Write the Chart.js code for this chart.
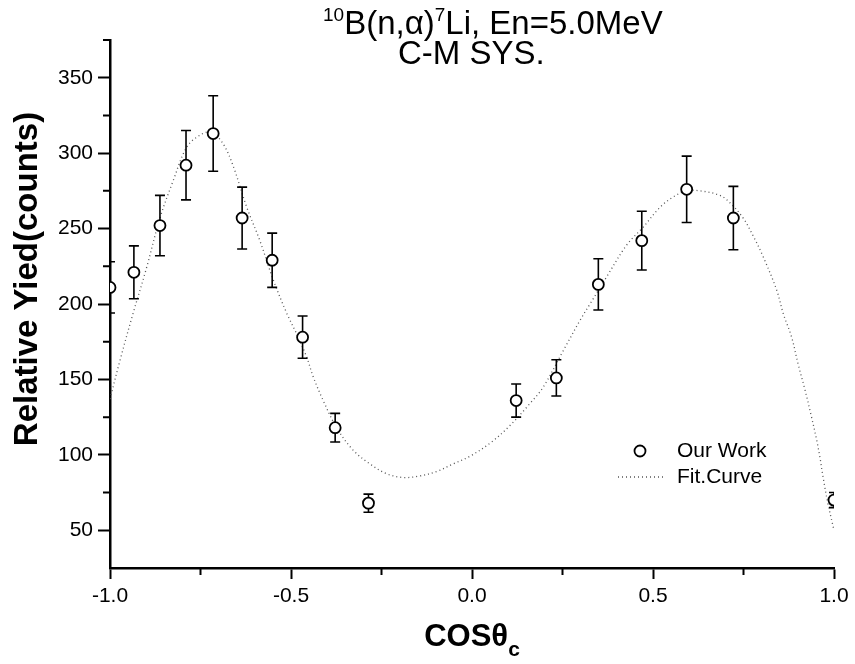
<!DOCTYPE html>
<html>
<head>
<meta charset="utf-8">
<script src="https://cdn.jsdelivr.net/npm/chart.js@4.4.1/dist/chart.umd.min.js"></script>
<style>
  html, body { margin: 0; padding: 0; background: #fff; }
  #wrap { width: 855px; height: 664px; }
</style>
</head>
<body>
<div id="wrap"><canvas id="chart" width="855" height="664"></canvas></div>
<script>
// ── Data ──────────────────────────────────────────────────
const cosTheta  = [-1.0, -0.934, -0.862, -0.79, -0.715, -0.635, -0.552, -0.468, -0.378, -0.286,
                   0.122, 0.233, 0.349, 0.469, 0.593, 0.722, 1.0];
const yieldVals = [211, 221, 252, 292, 313, 257, 229, 178, 118, 68,
                   136, 151, 213, 242, 276, 257, 70];
const yieldErr  = [17, 17.5, 20, 23, 25, 20.5, 18, 14, 9.5, 6,
                   11, 12, 17, 19.5, 22, 21, 5];

const fitX = [-1.0, -0.972, -0.936, -0.899, -0.862, -0.825, -0.788, -0.751, -0.72, -0.687,
              -0.659, -0.622, -0.586, -0.549, -0.512, -0.484, -0.457, -0.439, -0.411, -0.374,
              -0.328, -0.282, -0.236, -0.19, -0.144, -0.097, -0.052, -0.006, 0.054, 0.105,
              0.16, 0.197, 0.252, 0.298, 0.326, 0.372, 0.427, 0.473, 0.519, 0.556,
              0.593, 0.63, 0.685, 0.713, 0.749, 0.777, 0.805, 0.842, 0.86, 0.883,
              0.901, 0.92, 0.938, 0.952, 0.961, 0.97, 0.983, 1.0];
const fitY = [137, 163, 194, 224, 257, 282, 304, 312, 314, 306,
              291, 264, 242, 216, 194, 180, 165, 152, 136, 118,
              103, 94, 87.5, 85, 86, 89, 94, 99, 108.5, 119.5,
              134, 145, 169, 189, 200, 218, 239, 251, 264, 271,
              275, 275, 272, 267, 257, 245, 231, 209, 193.5, 178,
              160, 143, 125, 110, 98.5, 85, 68, 50];

const xTicks      = [-1.0, -0.5, 0.0, 0.5, 1.0];
const xMinorTicks = [-0.75, -0.25, 0.25, 0.75];
const yTicks      = [50, 100, 150, 200, 250, 300, 350];
const yMinorTicks = [75, 125, 175, 225, 275, 325, 375];

const FONT = '"Liberation Sans", Arial, sans-serif';

// error bars under the circles, clipped to the plot area
const errorBars = {
  id: 'errorBars',
  beforeDatasetDraw(chart, args) {
    if (args.index !== 0) return;
    const { ctx, chartArea: a, scales: { x, y } } = chart;
    ctx.save();
    ctx.beginPath();
    ctx.rect(a.left, a.top, a.right - a.left, a.bottom - a.top);
    ctx.clip();
    ctx.strokeStyle = '#000';
    ctx.lineWidth = 1.6;
    cosTheta.forEach(function(cx, i) {
      const px = x.getPixelForValue(cx);
      const top = y.getPixelForValue(yieldVals[i] + yieldErr[i]);
      const bot = y.getPixelForValue(yieldVals[i] - yieldErr[i]);
      ctx.beginPath();
      ctx.moveTo(px, top); ctx.lineTo(px, bot);
      ctx.moveTo(px - 5, top); ctx.lineTo(px + 5, top);
      ctx.moveTo(px - 5, bot); ctx.lineTo(px + 5, bot);
      ctx.stroke();
    });
    ctx.restore();
  }
};

// text runs with super/subscripts
function drawRuns(ctx, x, base, runs, weight) {
  runs.forEach(function(r) {
    ctx.font = (weight || '') + ' ' + r.size + 'px ' + FONT;
    ctx.fillText(r.t, x, base + (r.dy || 0));
    x += ctx.measureText(r.t).width;
  });
}
function runsWidth(ctx, runs, weight) {
  let w = 0;
  runs.forEach(function(r) {
    ctx.font = (weight || '') + ' ' + r.size + 'px ' + FONT;
    w += ctx.measureText(r.t).width;
  });
  return w;
}

const decorations = {
  id: 'decorations',
  afterDraw(chart) {
    const { ctx, chartArea: a, scales: { x, y } } = chart;
    ctx.save();
    ctx.strokeStyle = '#000';
    ctx.lineWidth = 2;
    ctx.beginPath();
    xMinorTicks.forEach(function(v) {
      const px = x.getPixelForValue(v);
      ctx.moveTo(px, a.bottom); ctx.lineTo(px, a.bottom + 7);
    });
    yMinorTicks.forEach(function(v) {
      const py = y.getPixelForValue(v);
      ctx.moveTo(a.left, py); ctx.lineTo(a.left - 7, py);
    });
    ctx.stroke();

    ctx.fillStyle = '#000';
    ctx.textBaseline = 'alphabetic';
    ctx.textAlign = 'left';
    drawRuns(ctx, 323, 34, [
      { t: '10', size: 19, dy: -13 },
      { t: 'B(n,\u03b1)', size: 33 },
      { t: '7', size: 19, dy: -13 },
      { t: 'Li, En=5.0MeV', size: 33 }
    ]);
    drawRuns(ctx, 398, 64, [{ t: 'C-M SYS.', size: 33 }]);

    // x title with subscript
    const xt = [{ t: 'COS\u03b8', size: 31 }, { t: 'c', size: 21, dy: 10 }];
    const sx = x.getPixelForValue(0) - runsWidth(ctx, xt, 'bold') / 2;
    drawRuns(ctx, sx, 646, xt, 'bold');

    // y title
    ctx.save();
    ctx.translate(28, 279);
    ctx.rotate(-Math.PI / 2);
    ctx.textAlign = 'center';
    ctx.textBaseline = 'middle';
    ctx.font = 'bold 33px ' + FONT;
    ctx.fillText('Relative Yied(counts)', 0, 0);
    ctx.restore();

    // legend
    ctx.lineWidth = 1.8;
    ctx.beginPath();
    ctx.arc(640, 451, 5.5, 0, Math.PI * 2);
    ctx.stroke();
    ctx.strokeStyle = '#555';
    ctx.lineWidth = 1.3;
    ctx.setLineDash([1, 3]);
    ctx.beginPath();
    ctx.moveTo(618, 477); ctx.lineTo(666, 477);
    ctx.stroke();
    ctx.setLineDash([]);
    ctx.font = '21px ' + FONT;
    ctx.textBaseline = 'middle';
    ctx.fillText('Our Work', 677, 451);
    ctx.fillText('Fit.Curve', 677, 477);
    ctx.restore();
  }
};

const ctx = document.getElementById('chart');
new Chart(ctx, {
  type: 'scatter',
  data: {
    datasets: [{
      label: 'Our Work',
      data: cosTheta.map(function(v, i) { return { x: v, y: yieldVals[i] }; }),
      pointStyle: 'circle',
      pointRadius: 5.5,
      pointBorderWidth: 1.8,
      pointBackgroundColor: '#fff',
      pointBorderColor: '#000',
      clip: 0,
      order: 0
    }, {
      label: 'Fit.Curve',
      data: fitX.map(function(v, i) { return { x: v, y: fitY[i] }; }),
      showLine: true,
      pointRadius: 0,
      borderColor: '#555',
      borderWidth: 1.3,
      borderDash: [1, 3],
      tension: 0.35,
      clip: 0,
      order: 1
    }]
  },
  options: {
    responsive: false,
    animation: false,
    devicePixelRatio: 1,
    layout: { padding: { top: 40, right: 21, left: 0, bottom: 0 } },
    plugins: { legend: { display: false }, tooltip: { enabled: false } },
    scales: {
      x: {
        type: 'linear', min: -1, max: 1,
        afterBuildTicks: function(s) { s.ticks = xTicks.map(function(v) { return { value: v }; }); },
        afterFit: function(s) { s.height = 96; s.paddingLeft = 0; s.paddingRight = 0; },
        ticks: {
          color: '#000', padding: 5, font: { family: FONT, size: 21 },
          callback: function(v) { return Number(v).toFixed(1); }
        },
        grid: { drawOnChartArea: false, tickLength: 11, tickWidth: 2, tickColor: '#000' },
        border: { color: '#000', width: 2.5 }
      },
      y: {
        type: 'linear', min: 25, max: 375,
        afterBuildTicks: function(s) { s.ticks = yTicks.map(function(v) { return { value: v }; }); },
        afterFit: function(s) { s.width = 110; s.paddingTop = 0; s.paddingBottom = 0; },
        ticks: { color: '#000', padding: 5, font: { family: FONT, size: 21 } },
        grid: { drawOnChartArea: false, tickLength: 12, tickWidth: 2, tickColor: '#000' },
        border: { color: '#000', width: 2.5 }
      }
    }
  },
  plugins: [errorBars, decorations]
});
</script>
</body>
</html>
